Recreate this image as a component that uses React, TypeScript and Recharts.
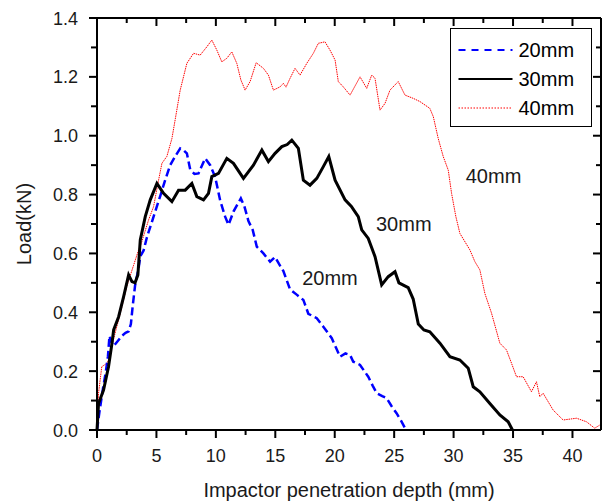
import React from 'react';
import { LineChart, Line, XAxis, YAxis, Legend, ReferenceDot, Label } from 'recharts';

const FONT = '"Liberation Sans", Arial, Helvetica, sans-serif';

// ---- data (depth in mm, load in kN) ----
const series20mm: [number, number][] = [
  [0, 0], [0.2, 0.06], [0.5, 0.14], [0.75, 0.2], [0.92, 0.25], [1.05, 0.32], [1.2, 0.3], [1.4, 0.285],
  [1.8, 0.305], [2.1, 0.32], [2.4, 0.33], [2.66, 0.335], [2.85, 0.36], [3.0, 0.42], [3.2, 0.49], [3.5, 0.55],
  [3.64, 0.59], [3.92, 0.61], [4.2, 0.655], [4.76, 0.725], [5.32, 0.795], [5.74, 0.85], [6.16, 0.9], [6.58, 0.93],
  [7.0, 0.957], [7.3, 0.95], [7.56, 0.94], [7.84, 0.885], [8.2, 0.87], [8.54, 0.872], [9.1, 0.923], [9.52, 0.9],
  [9.94, 0.86], [10.36, 0.78], [10.78, 0.725], [11.06, 0.697], [11.48, 0.742], [12.1, 0.787], [12.4, 0.76],
  [12.74, 0.71], [13.1, 0.68], [13.44, 0.623], [14.0, 0.6], [14.56, 0.572], [14.98, 0.588], [15.3, 0.565],
  [15.68, 0.54], [16.24, 0.478], [16.8, 0.46], [17.36, 0.442], [17.78, 0.395], [18.49, 0.38], [19.04, 0.351],
  [19.75, 0.312], [20.1, 0.28], [20.45, 0.249], [20.9, 0.26], [21.29, 0.255], [21.56, 0.232], [22.13, 0.221],
  [22.82, 0.181], [23.2, 0.15], [23.53, 0.125], [24.0, 0.115], [24.37, 0.108], [24.8, 0.08], [25.2, 0.057],
  [25.6, 0.03], [26.0, 0],
];

const series30mm: [number, number][] = [
  [0, 0], [0.13, 0.09], [0.55, 0.136], [0.97, 0.215], [1.26, 0.295], [1.4, 0.34], [1.82, 0.385], [2.24, 0.453],
  [2.66, 0.527], [2.94, 0.504], [3.2, 0.5], [3.44, 0.527], [3.64, 0.646], [4.06, 0.725], [4.48, 0.782],
  [5.04, 0.838], [5.6, 0.804], [6.3, 0.776], [6.86, 0.815], [7.42, 0.815], [7.98, 0.838], [8.4, 0.793],
  [8.96, 0.782], [9.38, 0.804], [9.66, 0.861], [10.22, 0.872], [10.92, 0.923], [11.48, 0.906], [12.32, 0.855],
  [13.16, 0.9], [13.87, 0.951], [14.42, 0.912], [14.98, 0.94], [15.55, 0.963], [16.0, 0.97], [16.39, 0.985],
  [16.94, 0.957], [17.36, 0.849], [17.92, 0.832], [18.49, 0.855], [19.04, 0.895], [19.5, 0.929], [20.03, 0.849],
  [20.87, 0.782], [21.4, 0.76], [21.98, 0.725], [22.27, 0.68], [22.82, 0.651], [23.39, 0.589], [23.95, 0.493],
  [24.5, 0.521], [25.07, 0.538], [25.4, 0.5], [26.18, 0.484], [26.6, 0.445], [27.03, 0.36], [27.5, 0.34],
  [28.0, 0.334], [28.85, 0.295], [29.69, 0.249], [30.53, 0.238], [31.23, 0.21], [31.65, 0.147], [32.21, 0.13],
  [33.05, 0.09], [33.89, 0.051], [34.59, 0.028], [34.95, 0],
];

const series40mm: [number, number][] = [
  [0, 0], [0.13, 0.125], [0.4, 0.215], [0.84, 0.227], [1.0, 0.24], [1.4, 0.31], [1.96, 0.397], [2.52, 0.49],
  [3.08, 0.56], [3.5, 0.612], [3.64, 0.623], [4.34, 0.714], [4.76, 0.759], [5.18, 0.849], [5.46, 0.906],
  [5.88, 0.93], [6.3, 0.99], [6.6, 1.06], [7.0, 1.155], [7.56, 1.246], [8.12, 1.28], [8.68, 1.274], [9.24, 1.302],
  [9.66, 1.325], [10.08, 1.291], [10.5, 1.251], [10.92, 1.263], [11.34, 1.285], [11.76, 1.246], [12.1, 1.19],
  [12.46, 1.155], [12.88, 1.184], [13.39, 1.248], [14.0, 1.229], [14.42, 1.206], [14.84, 1.155], [15.4, 1.166],
  [15.68, 1.178], [15.9, 1.165], [16.24, 1.195], [16.66, 1.229], [17.08, 1.206], [17.65, 1.246], [18.2, 1.28],
  [18.62, 1.314], [19.18, 1.319], [19.6, 1.291], [20.03, 1.257], [20.3, 1.184], [20.72, 1.166], [21.29, 1.138],
  [22.13, 1.2], [22.69, 1.161], [23.11, 1.206], [23.39, 1.195], [23.81, 1.087], [24.23, 1.11], [24.65, 1.155],
  [25.34, 1.184], [25.91, 1.138], [26.6, 1.127], [27.17, 1.116], [28.0, 1.093], [28.29, 1.065], [28.71, 0.99],
  [29.13, 0.929], [29.55, 0.883], [29.83, 0.804], [30.19, 0.725], [30.53, 0.668], [31.37, 0.612], [31.79, 0.572],
  [32.21, 0.544], [32.63, 0.464], [33.19, 0.397], [33.89, 0.295], [34.45, 0.272], [34.87, 0.227], [35.29, 0.181],
  [35.85, 0.181], [36.55, 0.13], [36.97, 0.164], [37.25, 0.113], [37.53, 0.125], [38.37, 0.068], [39.21, 0.034],
  [40.34, 0.04], [41.18, 0.028], [41.87, 0.006], [42.3, 0.017],
];

const seriesNames = ['20mm', '30mm', '40mm'];
const xDomain: [number, number] = [0, 42.4];
const yDomain: [number, number] = [0, 1.4];
const xTicks = [0, 2.5, 5, 7.5, 10, 12.5, 15, 17.5, 20, 22.5, 25, 27.5, 30, 32.5, 35, 37.5, 40];
const yTicks = [0, 0.1, 0.2, 0.3, 0.4, 0.5, 0.6, 0.7, 0.8, 0.9, 1.0, 1.1, 1.2, 1.3, 1.4];
const curveLabels = [
  { text: '40mm', depth: 33.36, load: 0.863 },
  { text: '30mm', depth: 25.81, load: 0.702 },
  { text: '20mm', depth: 19.6, load: 0.516 },
];

const toRows = (s: [number, number][]) => s.map(([x, y]) => ({ x, y }));
const data20 = toRows(series20mm);
const data30 = toRows(series30mm);
const data40 = toRows(series40mm);

const styles: Record<string, { color: string; width: number; dash?: string; legendDash?: string; legendWidth: number }> = {
  '20mm': { color: '#0000ff', width: 2.5, dash: '8 4', legendDash: '7 6', legendWidth: 2 },
  '30mm': { color: '#000000', width: 3, legendWidth: 2.2 },
  '40mm': { color: '#ff0000', width: 1, dash: '1.5 0.8', legendDash: '1.5 1.5', legendWidth: 1 },
};

const isMajor = (v: number, step: number) => Math.abs(v / step - Math.round(v / step)) < 1e-6;
const TICK_W = 2;

const BottomTick = (props: any) => {
  const { x, y, payload } = props;
  const v = payload.value;
  const major = isMajor(v, 5);
  return (
    <g>
      <line x1={x} x2={x} y1={y} y2={y + (major ? 8 : 5)} stroke="#000" strokeWidth={TICK_W} />
      {major && (
        <text x={x} y={y + 32} textAnchor="middle" fontSize={18} fontFamily={FONT} fill="#1a1a1a">
          {String(v)}
        </text>
      )}
    </g>
  );
};

const TopTick = (props: any) => {
  const { x, y, payload } = props;
  const major = isMajor(payload.value, 5);
  return (
    <g>
      <line x1={x} x2={x} y1={y} y2={y + (major ? 8 : 5)} stroke="#000" strokeWidth={TICK_W} />
    </g>
  );
};

const LeftTick = (props: any) => {
  const { x, y, payload } = props;
  const v = payload.value;
  const major = isMajor(v, 0.2);
  return (
    <g>
      <line x1={x - (major ? 8 : 6)} x2={x} y1={y} y2={y} stroke="#000" strokeWidth={TICK_W} />
      {major && (
        <text x={x - 19} y={y + 6.5} textAnchor="end" fontSize={18} fontFamily={FONT} fill="#1a1a1a">
          {v.toFixed(1)}
        </text>
      )}
    </g>
  );
};

const RightTick = (props: any) => {
  const { x, y, payload } = props;
  const major = isMajor(payload.value, 0.2);
  return (
    <g>
      <line x1={x - (major ? 8 : 5)} x2={x} y1={y} y2={y} stroke="#000" strokeWidth={TICK_W} />
    </g>
  );
};

const LegendBox = () => (
  <div
    style={{
      width: 142,
      height: 99,
      border: '1.5px solid #000',
      boxSizing: 'border-box',
      position: 'relative',
      background: '#fff',
      fontFamily: FONT,
    }}
  >
    {seriesNames.map((name, i) => {
      const st = styles[name];
      return (
        <div
          key={name}
          style={{ position: 'absolute', left: 0, top: 9.2 + i * 29, height: 24, display: 'flex', alignItems: 'center' }}
        >
          <svg width={66} height={24} style={{ display: 'block' }}>
            <line x1={7.5} x2={61.5} y1={12} y2={12} stroke={st.color} strokeWidth={st.legendWidth} strokeDasharray={st.legendDash} />
          </svg>
          <span style={{ fontSize: 20, lineHeight: '24px', color: '#000', marginLeft: 1.5 }}>{name}</span>
        </div>
      );
    })}
  </div>
);

const axisLineStyle = { stroke: '#000', strokeWidth: 2 };

export default function App() {
  return (
    <div style={{ position: 'absolute', left: 0, top: 0, width: 603, height: 503, background: '#fff' }}>
      <LineChart width={603} height={503} margin={{ top: 18, right: 2, bottom: 0, left: 0 }}>
        <XAxis
          xAxisId="bottom"
          dataKey="x"
          type="number"
          domain={xDomain}
          ticks={xTicks}
          interval={0}
          height={73}
          tickSize={0}
          tickMargin={0}
          tickLine={false}
          tick={BottomTick}
          axisLine={axisLineStyle}
        >
          <Label value="Impactor penetration depth (mm)" position="insideBottom" offset={6} fontSize={20} fill="#1a1a1a" fontFamily={FONT} />
        </XAxis>
        <XAxis
          xAxisId="top"
          orientation="top"
          mirror
          dataKey="x"
          type="number"
          domain={xDomain}
          ticks={xTicks}
          interval={0}
          height={10}
          tickSize={0}
          tickMargin={0}
          tickLine={false}
          tick={TopTick}
          axisLine={axisLineStyle}
        />
        <YAxis
          yAxisId="left"
          type="number"
          domain={yDomain}
          ticks={yTicks}
          interval={0}
          width={97}
          tickSize={0}
          tickMargin={0}
          tickLine={false}
          tick={LeftTick}
          axisLine={axisLineStyle}
        >
          <Label value="Load(kN)" angle={-90} position="insideLeft" offset={24} fontSize={20} fill="#1a1a1a" fontFamily={FONT} style={{ textAnchor: 'middle' }} />
        </YAxis>
        <YAxis
          yAxisId="right"
          orientation="right"
          mirror
          type="number"
          domain={yDomain}
          ticks={yTicks}
          interval={0}
          width={10}
          tickSize={0}
          tickMargin={0}
          tickLine={false}
          tick={RightTick}
          axisLine={axisLineStyle}
        />
        <Legend
          layout="vertical"
          align="center"
          verticalAlign="middle"
          width={142}
          height={99}
          wrapperStyle={{ left: 450, top: 28, width: 142, height: 99, margin: 0 }}
          content={() => <LegendBox />}
        />
        <Line
          xAxisId="top"
          yAxisId="right"
          data={data40}
          dataKey="y"
          stroke="none"
          strokeOpacity={0}
          legendType="none"
          dot={false}
          isAnimationActive={false}
        />
        <Line
          xAxisId="bottom"
          yAxisId="left"
          data={data40}
          dataKey="y"
          name={seriesNames[2]}
          type="linear"
          stroke={styles['40mm'].color}
          strokeWidth={styles['40mm'].width}
          strokeDasharray={styles['40mm'].dash}
          dot={false}
          isAnimationActive={false}
        />
        <Line
          xAxisId="bottom"
          yAxisId="left"
          data={data20}
          dataKey="y"
          name={seriesNames[0]}
          type="linear"
          stroke={styles['20mm'].color}
          strokeWidth={styles['20mm'].width}
          strokeDasharray={styles['20mm'].dash}
          dot={false}
          isAnimationActive={false}
        />
        <Line
          xAxisId="bottom"
          yAxisId="left"
          data={data30}
          dataKey="y"
          name={seriesNames[1]}
          type="linear"
          stroke={styles['30mm'].color}
          strokeWidth={styles['30mm'].width}
          dot={false}
          isAnimationActive={false}
        />
        {curveLabels.map((c) => (
          <ReferenceDot
            key={c.text}
            xAxisId="bottom"
            yAxisId="left"
            x={c.depth}
            y={c.load}
            r={0}
            fill="none"
            stroke="none"
            label={{ value: c.text, position: 'center', fontSize: 20, fill: '#1a1a1a', fontFamily: FONT }}
          />
        ))}
      </LineChart>
    </div>
  );
}
